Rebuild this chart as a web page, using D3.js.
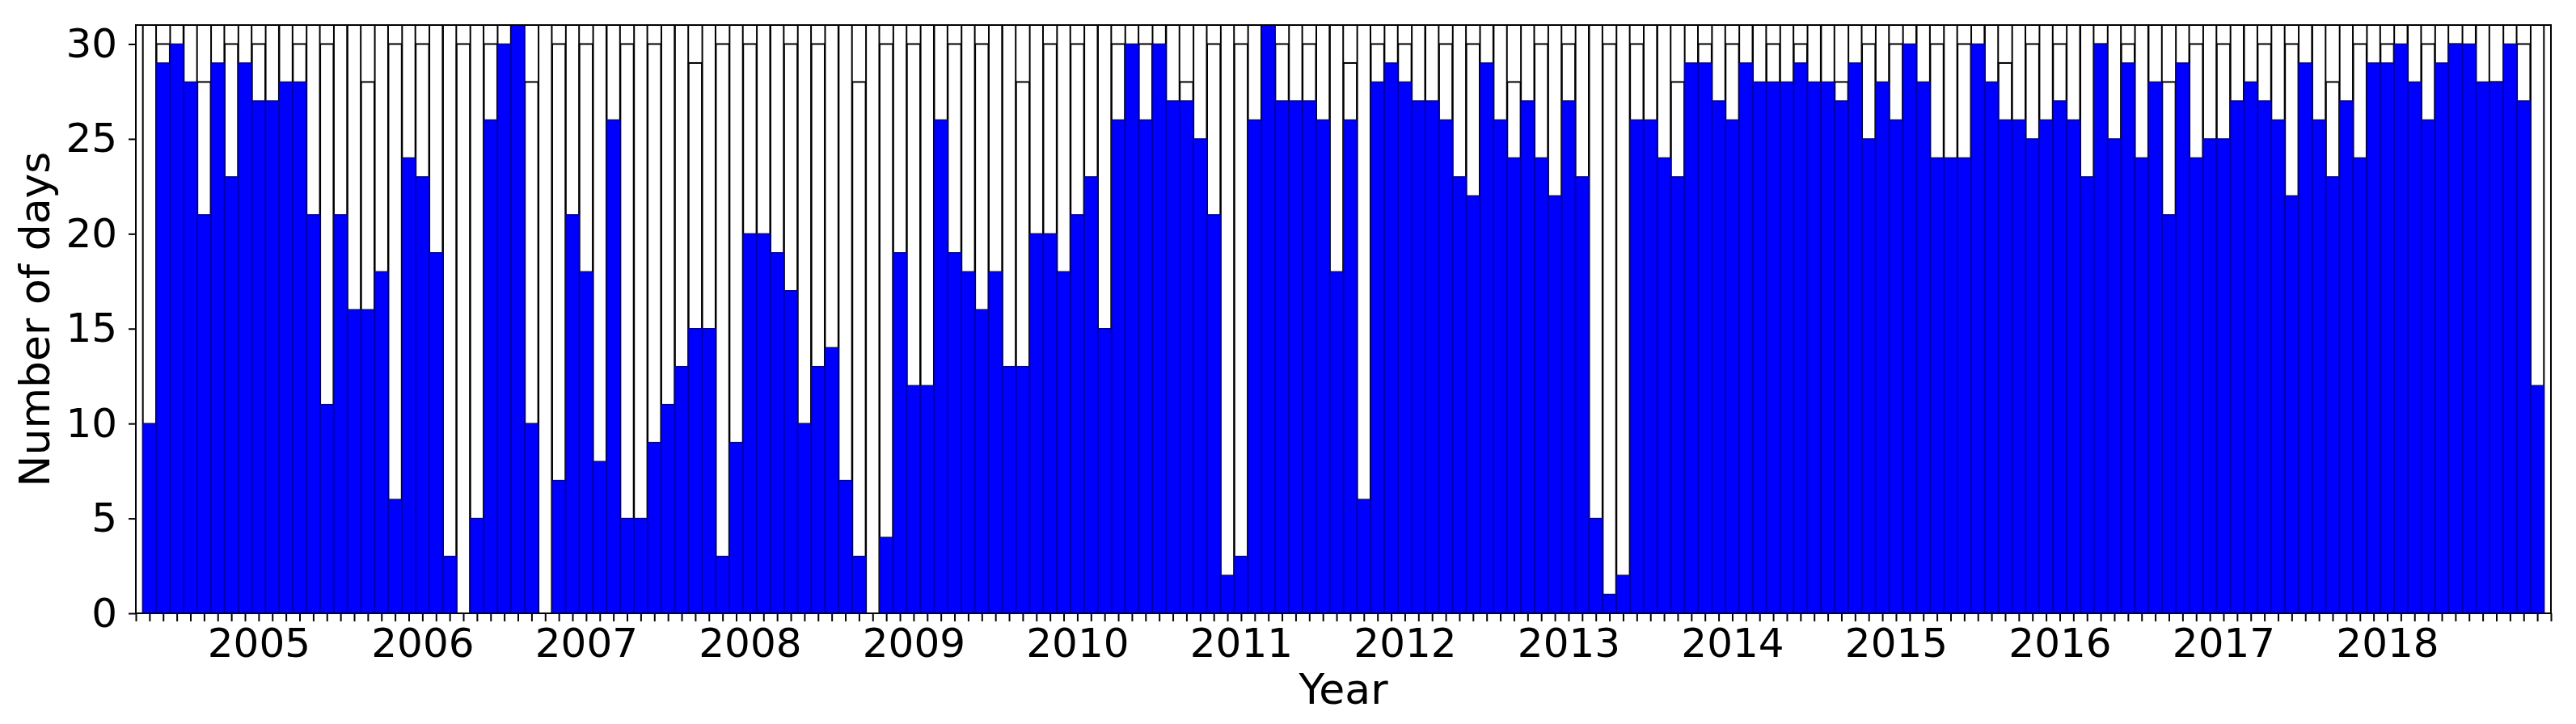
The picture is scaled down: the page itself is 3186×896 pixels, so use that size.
<!DOCTYPE html>
<html>
<head>
<meta charset="utf-8">
<script src="https://cdn.jsdelivr.net/npm/d3@7/dist/d3.min.js"></script>
<style>
    body { margin: 0; background: #fff; }
    text { font-family: 'DejaVu Sans', sans-serif; }
</style>
</head>
<body>
<script>
// first and last month on the axis
const firstMonth = new Date(2004, 4, 1);
const lastMonth = new Date(2018, 11, 1);

// white bars: number of days in the month
const monthDays = [
    31, 30, 31, 31, 28, 31, 30, 31, 30, 31, 31, 30,
    31, 30, 31, 31, 28, 31, 30, 31, 30, 31, 31, 30,
    31, 30, 31, 31, 28, 31, 30, 31, 30, 31, 31, 30,
    31, 30, 31, 31, 29, 31, 30, 31, 30, 31, 31, 30,
    31, 30, 31, 31, 28, 31, 30, 31, 30, 31, 31, 30,
    31, 30, 31, 31, 28, 31, 30, 31, 30, 31, 31, 30,
    31, 30, 31, 31, 28, 31, 30, 31, 30, 31, 31, 30,
    31, 30, 31, 31, 29, 31, 30, 31, 30, 31, 31, 30,
    31, 30, 31, 31, 28, 31, 30, 31, 30, 31, 31, 30,
    31, 30, 31, 31, 28, 31, 30, 31, 30, 31, 31, 30,
    31, 30, 31, 31, 28, 31, 30, 31, 30, 31, 31, 30,
    31, 30, 31, 31, 29, 31, 30, 31, 30, 31, 31, 30,
    31, 30, 31, 31, 28, 31, 30, 31, 30, 31, 31, 30,
    31, 30, 31, 31, 28, 31, 30, 31, 30, 31, 31, 30,
    31, 30, 31, 31, 28, 31, 30, 31
];

// blue bars: number of days with data
const dataDays = [
    10, 29, 30, 28, 21, 29, 23, 29, 27, 27, 28, 28,
    21, 11, 21, 16, 16, 18, 6, 24, 23, 19, 3, 0,
    5, 26, 30, 31, 10, 0, 7, 21, 18, 8, 26, 5,
    5, 9, 11, 13, 15, 15, 3, 9, 20, 20, 19, 17,
    10, 13, 14, 7, 3, 0, 4, 19, 12, 12, 26, 19,
    18, 16, 18, 13, 13, 20, 20, 18, 21, 23, 15, 26,
    30, 26, 30, 27, 27, 25, 21, 2, 3, 26, 31, 27,
    27, 27, 26, 18, 26, 6, 28, 29, 28, 27, 27, 26,
    23, 22, 29, 26, 24, 27, 24, 22, 27, 23, 5, 1,
    2, 26, 26, 24, 23, 29, 29, 27, 26, 29, 28, 28,
    28, 29, 28, 28, 27, 29, 25, 28, 26, 30, 28, 24,
    24, 24, 30, 28, 26, 26, 25, 26, 27, 26, 23, 30,
    25, 29, 24, 28, 21, 29, 24, 25, 25, 27, 28, 27,
    26, 22, 29, 26, 23, 27, 24, 29, 29, 30, 28, 26,
    29, 30, 30, 28, 28, 30, 27, 12
];

const yTicks = [0, 5, 10, 15, 20, 25, 30];
const yearLabels = ['2005', '2006', '2007', '2008', '2009', '2010', '2011',
    '2012', '2013', '2014', '2015', '2016', '2017', '2018'];

const months = d3.timeMonth.range(firstMonth, d3.timeMonth.offset(lastMonth, 1));
const data = months.map((m, i) => ({ month: m, index: i + 1, total: monthDays[i], days: dataDays[i] }));

const margin = {
    left: 168, right: 31, top: 31, bottom: 137
}
const svgWidth = 3186;
const svgHeight = 896;
const width = svgWidth - margin.left - margin.right;
const height = svgHeight - margin.top - margin.bottom;

const svg = d3
.select('body')
.append('svg')
.attr('width', svgWidth)
.attr('height', svgHeight)

const g = svg.append('g')
.attr('transform', `translate(${margin.left}, ${margin.top})`)

// one slot per month, with one empty slot of padding on each side
const x = d3.scaleLinear()
.domain([0, months.length + 1])
.range([0, width])

const y = d3.scaleLinear()
.domain([0, 31])
.range([height, 0])

const slot = x(1) - x(0);
const barWidth = slot * 0.97;

const plot = g.append('g')

plot.selectAll('rect.total')
.data(data).enter()
.append('rect')
.attr('class', 'total')
.attr('x', (d) => x(d.index) - barWidth / 2)
.attr('y', (d) => y(d.total))
.attr('width', barWidth)
.attr('height', (d) => y(0) - y(d.total))
.attr('fill', '#ffffff')
.attr('stroke', '#000000')
.attr('stroke-width', 2)

plot.selectAll('rect.days')
.data(data).enter()
.append('rect')
.attr('class', 'days')
.attr('x', (d) => x(d.index) - barWidth / 2)
.attr('y', (d) => y(d.days))
.attr('width', barWidth)
.attr('height', (d) => y(0) - y(d.days))
.attr('fill', '#0000ff')
.attr('stroke', '#0000a8')
.attr('stroke-width', 1.5)

// monthly ticks, year label under each January
const xAxis = d3.axisBottom(x)
.tickValues(d3.range(0, months.length + 2))
.tickSize(10)
.tickPadding(8)
.tickFormat((i) => {
    const m = months[i - 1];
    if (!m || m.getMonth() !== 0) {
        return '';
    }
    return yearLabels[m.getFullYear() - 2005];
})

const yAxis = d3.axisLeft(y)
.tickValues(yTicks)
.tickSize(9)
.tickPadding(14)

const gx = g.append('g')
.attr('transform', `translate(0, ${height})`)
.call(xAxis)

const gy = g.append('g')
.call(yAxis)

;[gx, gy].forEach((ax) => {
    ax.select('.domain').remove();
    ax.selectAll('line').attr('stroke', '#000').attr('stroke-width', 2);
    ax.selectAll('text')
    .attr('fill', '#000')
    .style('font-size', '50px')
    .style('font-family', "'DejaVu Sans', sans-serif");
})

// frame around the plot
g.append('rect')
.attr('width', width)
.attr('height', height)
.attr('fill', 'none')
.attr('stroke', '#000')
.attr('stroke-width', 2)

g.append('text')
.attr('x', width / 2)
.attr('y', height + 112)
.attr('text-anchor', 'middle')
.style('font-size', '52px')
.text('Year')

g.append('text')
.attr('transform', `translate(${61 - margin.left}, ${height / 2}) rotate(-90)`)
.attr('text-anchor', 'middle')
.style('font-size', '52px')
.text('Number of days')
</script>
</body>
</html>
